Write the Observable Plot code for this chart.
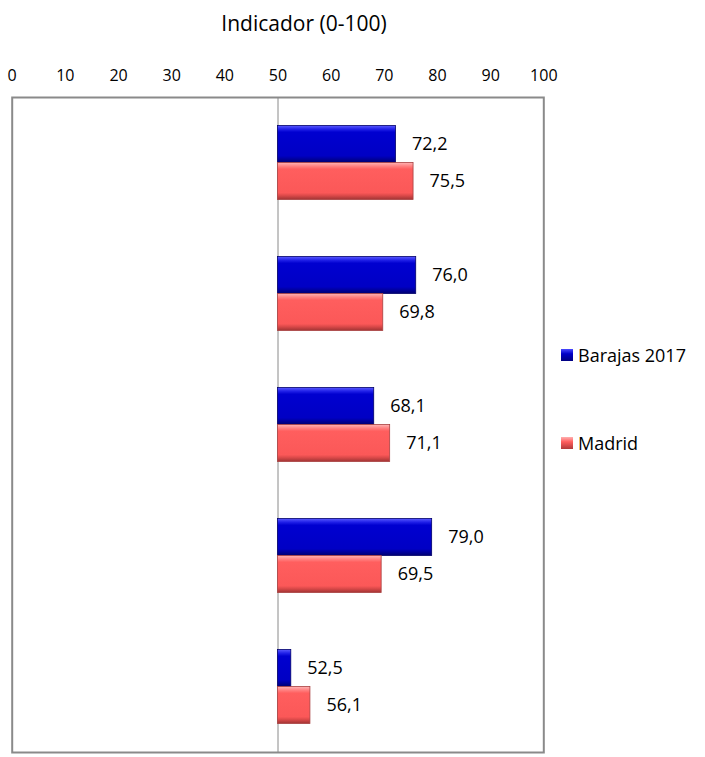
<!DOCTYPE html>
<html>
<head>
<meta charset="utf-8">
<script src="https://cdn.jsdelivr.net/npm/d3@7"></script>
<script src="https://cdn.jsdelivr.net/npm/@observablehq/plot@0.6"></script>
<style>
  html, body { margin: 0; padding: 0; background: #fff; }
  #wrap { position: relative; width: 705px; height: 757px; font-family: "Open Sans", Lato, sans-serif; color: #000; }
  #title { position: absolute; top: 9px; left: 0; width: 608px; text-align: center; font-size: 21px; line-height: 28px; z-index: 2; }
  #chart { position: absolute; top: 0; left: 0; z-index: 1; }
  #legend { position: absolute; left: 561px; top: 344px; font-size: 18px; z-index: 2; }
  .row { display: flex; align-items: center; height: 22px; }
  .row + .row { margin-top: 66px; }
  .sw { width: 12px; height: 12px; margin-right: 5px; box-sizing: border-box; }
</style>
</head>
<body>
<div id="wrap">
  <div id="title"></div>
  <div id="chart"></div>
  <div id="legend"></div>
</div>
<script>
const titleText = "Indicador (0-100)";
const groups = ["G1", "G2", "G3", "G4", "G5"];
const seriesNames = ["Barajas 2017", "Madrid"];
const barajas = [72.2, 76.0, 68.1, 79.0, 52.5];
const madrid = [75.5, 69.8, 71.1, 69.5, 56.1];
const baseline = 50;
const xTicks = [0, 10, 20, 30, 40, 50, 60, 70, 80, 90, 100];

const fmt = v => v.toFixed(1).replace(".", ",");
const dataB = groups.map((g, i) => ({group: g, value: barajas[i]}));
const dataM = groups.map((g, i) => ({group: g, value: madrid[i]}));

document.getElementById("title").textContent = titleText;

const chart = Plot.plot({
  width: 705,
  height: 757,
  marginTop: 97,
  marginLeft: 11.7,
  marginRight: 161.7,
  marginBottom: 5,
  style: {fontFamily: "'Open Sans', Lato, sans-serif", fontSize: "16px", color: "#000", background: "transparent"},
  x: {domain: [0, 100], axis: null},
  y: {domain: groups, axis: null, paddingInner: 0, paddingOuter: 0},
  marks: [
    Plot.axisX(xTicks, {anchor: "top", tickSize: 0, tickPadding: 17, label: null, fontSize: 16}),
    Plot.frame({stroke: "#8a8a8a", strokeWidth: 2}),
    Plot.ruleX([baseline], {stroke: "#8a8a8a", strokeWidth: 1}),
    Plot.barX(dataB, {y: "group", x1: baseline, x2: "value", insetTop: 47, insetBottom: 47, dy: -18.5,
      fill: "url(#gradBlue)", stroke: "#00006a", strokeWidth: 0.8}),
    Plot.barX(dataM, {y: "group", x1: baseline, x2: "value", insetTop: 47, insetBottom: 47, dy: 18.5,
      fill: "url(#gradRed)", stroke: "#a84040", strokeWidth: 0.8}),
    Plot.text(dataB, {y: "group", x: "value", text: d => fmt(d.value), dx: 16, dy: -18.5, textAnchor: "start", fontSize: 18}),
    Plot.text(dataM, {y: "group", x: "value", text: d => fmt(d.value), dx: 16, dy: 18.5, textAnchor: "start", fontSize: 18})
  ]
});

const svg = d3.select(chart);
const defs = svg.insert("defs", ":first-child");
function grad(id, stops) {
  const g = defs.append("linearGradient").attr("id", id).attr("x1", 0).attr("y1", 0).attr("x2", 0).attr("y2", 1);
  stops.forEach(([o, c]) => g.append("stop").attr("offset", o).attr("stop-color", c));
}
grad("gradBlue", [[0, "#5a5aff"], [0.1, "#2020e8"], [0.18, "#0000d0"], [0.82, "#0000c4"], [0.9, "#0000a0"], [1, "#000070"]]);
grad("gradRed", [[0, "#ffb4b4"], [0.1, "#ff8080"], [0.18, "#ff5e5e"], [0.82, "#fb5858"], [0.9, "#d84848"], [1, "#a03434"]]);

document.getElementById("chart").appendChild(chart);

const legendColors = {"Barajas 2017": "linear-gradient(#4a4aff, #0000c8 40%, #000080)", "Madrid": "linear-gradient(#ffb0b0, #ff5e5e 40%, #b03a3a)"};
const legend = d3.select("#legend");
seriesNames.forEach(name => {
  const r = legend.append("div").attr("class", "row");
  r.append("div").attr("class", "sw").style("background", legendColors[name]);
  r.append("span").text(name);
});
</script>
</body>
</html>
